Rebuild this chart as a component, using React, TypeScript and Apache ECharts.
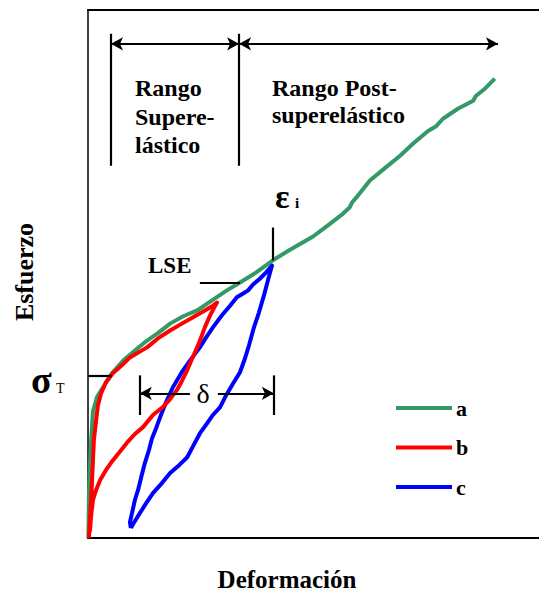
import React, { useEffect, useRef } from "react";
import * as echarts from "echarts";

// Stress–strain curves (strain %, stress % of full scale)
const seriesNames = ["a", "b", "c"];
const seriesColors = ["#339966", "#ff0000", "#0000ff"];

const curveA: [number, number][] = [
  [0.1, 0], [0.2, 8], [0.4, 13], [0.7, 18.5], [1.1, 24], [2.0, 26.7], [3.3, 28.5],
  [5.3, 31.2], [7.8, 33.6], [10.4, 35.5], [13.1, 37.4], [15.5, 38.8], [18.2, 40.6],
  [21.1, 42.0], [24.2, 43.1], [27.5, 45.0], [30.8, 46.9], [33.7, 48.4], [37.3, 50.3],
  [41.0, 52.6], [44.8, 54.6], [47.5, 55.9], [49.9, 57.1], [53.2, 59.2], [56.5, 61.4],
  [58.0, 62.6], [58.6, 63.6], [59.6, 64.6], [62.5, 67.7], [65.9, 70.1], [69.2, 72.4],
  [72.1, 74.7], [75.4, 77.1], [77.2, 78.0], [78.7, 79.4], [82.0, 81.3], [85.4, 82.8],
  [86.0, 83.7], [88.0, 85.1], [90.2, 87.0],
];

const curveB: [number, number][] = [
  [0.2, 0], [0.4, 3.4], [0.7, 7.2], [0.9, 11.0], [1.1, 14.7], [1.3, 18.5], [1.8, 22.3],
  [2.2, 25.1], [2.9, 27.4], [4.0, 29.5], [5.5, 31.2], [7.5, 32.7], [9.3, 34.2],
  [11.5, 35.3], [13.1, 36.1], [15.5, 37.8], [18.2, 39.3], [20.8, 40.6], [23.3, 41.8],
  [25.9, 43.1], [27.7, 44.0], [28.6, 44.6],
  [27.9, 43.5], [27.1, 42.2], [25.9, 39.9], [25.1, 38.0], [24.2, 36.1], [23.1, 34.0],
  [22.0, 31.8], [20.8, 29.7], [19.7, 28.0], [18.2, 26.3], [16.6, 24.8], [14.4, 23.3],
  [12.2, 21.0], [10.4, 19.7], [8.6, 18.0], [7.1, 16.4], [5.5, 14.7], [4.0, 12.9],
  [2.7, 11.0], [1.8, 9.1], [1.1, 7.2], [0.7, 4.3], [0.4, 1.1],
];

const curveC: [number, number][] = [
  [9.5, 1.9], [9.3, 3.0], [9.8, 4.9], [10.4, 7.2], [11.1, 9.1], [11.8, 11.5], [12.6, 14.2],
  [13.5, 16.6], [14.2, 18.9], [15.1, 20.8], [16.0, 22.9], [17.3, 25.7], [18.8, 28.5],
  [20.8, 31.4], [22.6, 33.6], [24.8, 36.1], [26.2, 38.0], [27.7, 39.9], [29.7, 42.2],
  [31.5, 44.0], [33.0, 45.6], [34.4, 46.3], [35.5, 46.9], [36.6, 48.0], [38.1, 49.1],
  [39.5, 50.3], [40.8, 51.6],
  [39.9, 48.8], [39.0, 45.9], [37.9, 42.7], [36.8, 39.9], [35.7, 36.5], [34.8, 34.0],
  [33.7, 31.4], [32.2, 29.3], [30.6, 27.0], [29.3, 24.8], [27.7, 23.3], [26.4, 21.7],
  [24.8, 19.8], [23.3, 17.4], [22.0, 15.3], [20.2, 13.8], [18.2, 12.3], [16.4, 10.4],
  [14.4, 8.5], [12.9, 6.6], [11.5, 4.7], [10.4, 3.2], [9.5, 1.9],
];

// Annotation anchors, in the same data units
const rangeBarX = [5.1, 33.5];
const rangeEndX = 90.9;
const rangeArrowY = 93.6;
const rangeBarY = [70.5, 95.5];
const sigmaT = { x: 5.3, y: 30.8 };
const epsI = { x: 41.0, y0: 52.6, y1: 58.8 };
const lse = { y: 48.4, x0: 24.8, x1: 33.7 };
const delta = { x0: 11.5, x1: 41.2, y: 27.4, barY0: 23.3, barY1: 30.8, gapL: 22.6, gapR: 28.8 };

const SERIF = '"Liberation Serif", "Times New Roman", serif';

type P = [number, number];
const seg = (a: P, b: P, s0 = "none", s1 = "none") => [
  { coord: a, symbol: s0 },
  { coord: b, symbol: s1 },
];

export default function App() {
  const ref = useRef<HTMLDivElement>(null);

  useEffect(() => {
    document.body.style.margin = "0";
    if (!ref.current) return;
    const chart = echarts.init(ref.current, undefined, { renderer: "svg" });

    const curves = [curveA, curveB, curveC];
    const lineSeries = seriesNames.map((name, i) => ({
      name,
      type: "line",
      data: curves[i],
      showSymbol: false,
      symbol: "none",
      smooth: false,
      silent: true,
      z: i === 1 ? 4 : i === 2 ? 3 : 2,
      color: seriesColors[i],
      lineStyle: { color: seriesColors[i], width: 4, join: "round" },
    }));

    const notes = {
      name: "notas",
      type: "line",
      data: [],
      silent: true,
      z: 6,
      markLine: {
        silent: true,
        animation: false,
        symbolSize: [10, 12],
        label: { show: false },
        emphasis: { disabled: true },
        lineStyle: { color: "#000", width: 2.2, type: "solid" },
        data: [
          seg([rangeBarX[0], rangeBarY[0]], [rangeBarX[0], rangeBarY[1]]),
          seg([rangeBarX[1], rangeBarY[0]], [rangeBarX[1], rangeBarY[1]]),
          seg([rangeBarX[0], rangeArrowY], [rangeBarX[1], rangeArrowY], "arrow", "arrow"),
          seg([rangeBarX[1], rangeArrowY], [rangeEndX, rangeArrowY], "arrow", "arrow"),
          seg([0, sigmaT.y], [sigmaT.x, sigmaT.y]),
          seg([epsI.x, epsI.y0], [epsI.x, epsI.y1]),
          seg([lse.x0, lse.y], [lse.x1, lse.y]),
          seg([delta.x0, delta.barY0], [delta.x0, delta.barY1]),
          seg([delta.x1, delta.barY0], [delta.x1, delta.barY1]),
          seg([delta.gapL, delta.y], [delta.x0, delta.y], "none", "arrow"),
          seg([delta.gapR, delta.y], [delta.x1, delta.y], "none", "arrow"),
        ],
      },
    };

    const label = (text: string, x: number, y: number, size: number, extra: any = {}) => ({
      type: "text",
      x,
      y,
      silent: true,
      z: 10,
      style: {
        text,
        fill: "#000",
        font: `bold ${size}px ${SERIF}`,
        align: "left",
        verticalAlign: "middle",
        ...extra,
      },
    });

    chart.setOption({
      animation: false,
      backgroundColor: "#fff",
      grid: { left: 88, right: 0, top: 10, bottom: 57, containLabel: false },
      xAxis: [
        {
          type: "value",
          min: 0,
          max: 100,
          position: "bottom",
          axisLine: { show: true, onZero: false, lineStyle: { color: "#000", width: 2 } },
          axisTick: { show: false },
          axisLabel: { show: false },
          splitLine: { show: false },
        },
        {
          type: "value",
          min: 0,
          max: 100,
          position: "top",
          axisLine: { show: true, onZero: false, lineStyle: { color: "#000", width: 2 } },
          axisTick: { show: false },
          axisLabel: { show: false },
          splitLine: { show: false },
        },
      ],
      yAxis: {
        type: "value",
        min: 0,
        max: 100,
        axisLine: { show: true, onZero: false, lineStyle: { color: "#000", width: 1.5 } },
        axisTick: { show: false },
        axisLabel: { show: false },
        splitLine: { show: false },
      },
      legend: {
        data: seriesNames,
        orient: "vertical",
        left: 391,
        top: 392,
        icon: "rect",
        itemWidth: 56,
        itemHeight: 4,
        itemGap: 17.5,
        selectedMode: false,
        textStyle: {
          color: "#000",
          fontFamily: SERIF,
          fontWeight: "bold",
          fontSize: 22,
          lineHeight: 22,
          padding: [0, 0, 0, -1],
        },
      },
      series: [...lineSeries, notes],
      graphic: [
        label("Rango", 135, 88, 24),
        label("Supere-", 135, 117, 24),
        label("lástico", 135, 145, 24),
        label("Rango Post-", 272, 88, 24),
        label("superelástico", 272, 115, 24),
        label("LSE", 148, 265, 23),
        label("ε", 275, 196, 34, { font: `bold 34px ${SERIF}` }),
        label("i", 295, 203, 15),
        label("σ", 31, 380, 38, { font: `bold 38px ${SERIF}` }),
        label("T", 56, 388, 14, { font: `14px ${SERIF}` }),
        label("δ", 203, 393, 28, { font: `28px ${SERIF}`, align: "center" }),
        label("Deformación", 287, 579, 25, { align: "center" }),
        {
          type: "text",
          x: 24,
          y: 272,
          rotation: Math.PI / 2,
          silent: true,
          z: 10,
          style: {
            text: "Esfuerzo",
            fill: "#000",
            font: `bold 26px ${SERIF}`,
            align: "center",
            verticalAlign: "middle",
          },
        },
      ],
    });

    return () => chart.dispose();
  }, []);

  return <div ref={ref} style={{ width: 539, height: 595 }} />;
}
